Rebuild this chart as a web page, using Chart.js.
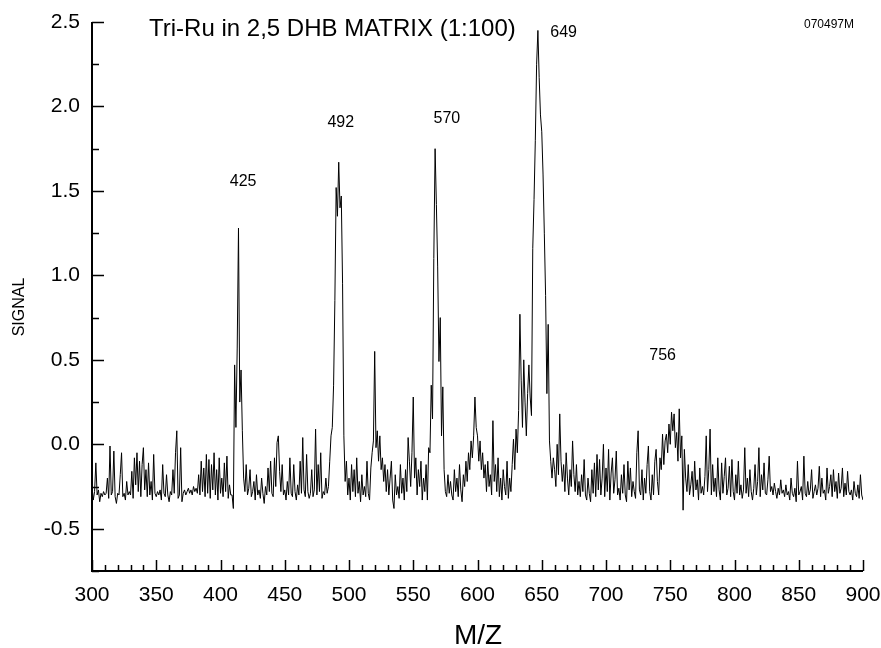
<!DOCTYPE html>
<html>
<head>
<meta charset="utf-8">
<script src="https://cdn.jsdelivr.net/npm/chart.js@4"></script>
<style>
  html, body { margin: 0; padding: 0; background: #fff; }
  canvas { display: block; }
</style>
</head>
<body>
<canvas id="spectrum" width="881" height="648"></canvas>
<script>
// Datos del espectro (m/z 300..900, paso 1)
const mzStart = 300;
const mzStep = 1;
const signal = [
  // 300
  -0.25,-0.33,-0.28,-0.11,-0.30,-0.27,-0.34,-0.29,-0.31,-0.28,
  // 310
  -0.30,-0.29,-0.20,-0.32,-0.01,-0.30,-0.28,-0.04,-0.31,-0.35,
  // 320
  -0.29,-0.30,-0.18,-0.05,-0.31,-0.29,-0.33,-0.22,-0.30,-0.28,
  // 330
  -0.30,-0.16,-0.32,-0.08,-0.24,-0.05,-0.28,-0.10,-0.31,-0.12,
  // 340
  -0.02,-0.27,-0.15,-0.31,-0.11,-0.30,-0.22,-0.33,-0.06,-0.29,
  // 350
  -0.31,-0.28,-0.30,-0.27,-0.33,-0.12,-0.29,-0.31,-0.18,-0.30,
  // 360
  -0.34,-0.28,-0.30,-0.15,-0.29,-0.05,0.08,-0.32,-0.30,-0.02,
  // 370
  -0.34,-0.29,-0.27,-0.30,-0.28,-0.26,-0.29,-0.27,-0.30,-0.25,
  // 380
  -0.28,-0.26,-0.29,-0.18,-0.30,-0.10,-0.28,-0.14,-0.31,-0.06,
  // 390
  -0.29,-0.09,-0.32,-0.12,-0.27,-0.05,-0.30,-0.15,-0.33,-0.08,
  // 400
  -0.29,-0.20,-0.31,-0.11,-0.28,-0.07,-0.32,-0.24,-0.30,-0.30,
  // 410
  -0.38,0.47,0.10,0.57,1.28,0.25,0.44,0.08,-0.20,-0.28,
  // 420
  -0.12,-0.30,-0.26,-0.15,-0.31,-0.28,-0.22,-0.33,-0.18,-0.30,
  // 430
  -0.27,-0.32,-0.20,-0.29,-0.35,-0.25,-0.30,-0.14,-0.28,-0.10,
  // 440
  -0.29,-0.31,-0.08,-0.25,0.01,0.05,-0.16,-0.28,-0.12,-0.30,
  // 450
  -0.27,-0.33,-0.22,-0.30,-0.08,-0.29,-0.31,-0.12,-0.28,-0.33,
  // 460
  -0.24,-0.30,-0.10,-0.29,0.04,-0.27,-0.31,-0.06,-0.28,-0.32,
  // 470
  -0.29,-0.15,-0.31,-0.27,0.09,-0.30,-0.12,-0.28,-0.05,-0.32,
  // 480
  -0.28,-0.30,-0.20,-0.29,-0.25,-0.10,0.05,0.10,0.35,0.85,
  // 490
  1.52,1.35,1.67,1.40,1.47,0.95,0.05,-0.22,-0.10,-0.30,
  // 500
  -0.20,-0.33,-0.12,-0.28,-0.15,-0.31,-0.08,-0.29,-0.22,-0.34,
  // 510
  -0.18,-0.30,-0.25,-0.31,-0.10,-0.29,-0.33,-0.14,-0.05,0.02,
  // 520
  0.55,-0.02,0.08,-0.10,0.05,-0.15,-0.08,-0.22,-0.12,-0.28,
  // 530
  -0.15,-0.30,-0.20,-0.10,-0.33,-0.38,-0.18,-0.30,-0.25,-0.32,
  // 540
  -0.12,-0.29,-0.20,-0.33,-0.15,-0.28,0.04,-0.10,-0.25,-0.05,
  // 550
  0.28,-0.20,-0.08,-0.30,-0.15,-0.25,-0.10,-0.33,-0.20,-0.28,
  // 560
  -0.12,-0.33,-0.02,-0.05,0.35,0.15,1.10,1.75,1.42,1.05,
  // 570
  0.49,0.75,0.05,0.34,-0.15,-0.28,-0.31,-0.18,-0.29,-0.22,
  // 580
  -0.30,-0.33,-0.15,-0.28,-0.20,-0.31,-0.12,-0.27,-0.34,-0.18,
  // 590
  -0.25,-0.10,-0.22,-0.05,-0.15,0.02,-0.08,0.05,0.28,0.10,
  // 600
  0.05,-0.10,0.02,-0.15,-0.05,-0.20,-0.12,-0.28,-0.10,-0.25,
  // 610
  -0.18,-0.30,0.14,-0.22,-0.12,-0.28,-0.08,-0.31,-0.20,-0.33,
  // 620
  -0.15,-0.25,-0.30,-0.10,-0.32,-0.20,-0.28,-0.12,0.03,-0.15,
  // 630
  0.09,-0.05,0.20,0.77,0.38,0.10,0.50,0.25,0.05,0.30,
  // 640
  0.47,0.28,0.17,1.16,1.45,1.80,2.25,2.45,2.17,1.95,
  // 650
  1.85,1.60,1.25,0.88,0.30,0.71,0.02,-0.10,-0.20,-0.08,
  // 660
  -0.15,-0.25,0.00,-0.18,0.18,-0.10,-0.22,-0.12,-0.28,-0.05,
  // 670
  -0.20,-0.30,-0.15,-0.25,0.02,-0.18,-0.28,-0.12,-0.30,-0.22,
  // 680
  -0.31,-0.18,-0.28,-0.09,-0.30,-0.33,-0.20,-0.29,-0.34,-0.15,
  // 690
  -0.29,-0.11,-0.31,-0.06,-0.27,-0.09,-0.30,-0.20,0.00,-0.31,
  // 700
  -0.14,-0.28,-0.03,-0.33,-0.17,-0.08,-0.29,-0.21,-0.04,-0.30,
  // 710
  -0.26,-0.33,-0.18,-0.29,-0.12,-0.30,-0.34,-0.10,-0.27,-0.14,
  // 720
  -0.31,-0.22,-0.28,-0.32,-0.05,0.08,-0.27,-0.30,-0.15,-0.33,
  // 730
  -0.20,-0.29,-0.12,-0.01,-0.28,-0.33,-0.18,-0.30,-0.10,-0.03,
  // 740
  -0.22,-0.30,-0.08,-0.15,0.06,-0.12,0.02,0.06,-0.05,0.12,
  // 750
  0.00,0.19,0.08,0.18,-0.02,0.07,-0.10,0.21,-0.08,0.05,
  // 760
  -0.39,-0.03,-0.20,-0.28,-0.12,-0.30,-0.24,-0.16,-0.31,-0.10,
  // 770
  -0.27,-0.21,-0.33,-0.14,-0.29,-0.25,-0.30,-0.19,0.05,-0.28,
  // 780
  -0.15,0.09,-0.30,-0.12,-0.28,-0.20,-0.31,-0.08,-0.27,-0.33,
  // 790
  -0.11,-0.29,-0.19,-0.08,-0.30,-0.26,-0.13,-0.31,-0.09,-0.28,
  // 800
  -0.33,-0.18,-0.29,-0.10,-0.30,-0.24,-0.32,-0.27,-0.02,-0.29,
  // 810
  -0.20,-0.31,-0.15,-0.28,-0.33,-0.26,-0.12,-0.30,-0.22,-0.02,
  // 820
  -0.31,-0.18,-0.27,-0.11,-0.29,-0.30,-0.21,-0.07,-0.28,-0.25,
  // 830
  -0.30,-0.23,-0.28,-0.32,-0.26,-0.30,-0.21,-0.29,-0.27,-0.31,
  // 840
  -0.24,-0.30,-0.28,-0.33,-0.20,-0.29,-0.31,-0.26,-0.34,-0.10,
  // 850
  -0.30,-0.28,-0.25,-0.33,-0.07,-0.29,-0.31,-0.22,-0.30,-0.27,
  // 860
  -0.15,-0.32,-0.28,-0.24,-0.30,-0.26,-0.13,-0.31,-0.20,-0.29,
  // 870
  -0.27,-0.33,-0.14,-0.29,-0.25,-0.18,-0.31,-0.15,-0.28,-0.22,
  // 880
  -0.32,-0.17,-0.29,-0.26,-0.14,-0.31,-0.23,-0.30,-0.16,-0.28,
  // 890
  -0.30,-0.27,-0.33,-0.22,-0.29,-0.31,-0.24,-0.32,-0.18,-0.30,
  // 900
  -0.33
];

// Etiquetas de picos (texto, m/z del centro, señal de la línea base del texto)
const peakLabels = ['425', '492', '570', '649', '756'];
const peakLabelMz = [417.6, 493.6, 576.2, 667.0, 744.1];
const peakLabelY = [1.53, 1.88, 1.90, 2.41, 0.50];

// Ejes
const xMin = 300, xMax = 900, xMajor = 50, xMinor = 10;
const yMin = -0.75, yMax = 2.5, yMajor = 0.5, yMinor = 0.25;

const FONT = '"Liberation Sans", Arial, Helvetica, sans-serif';

// Ejes dibujados a mano: marcas hacia dentro
const axesPlugin = {
    id: 'axesPlugin',
    afterDraw(chart) {
        const ctx = chart.ctx;
        const xs = chart.scales.x;
        const ys = chart.scales.y;
        const left = xs.getPixelForValue(xMin);
        const right = xs.getPixelForValue(xMax);
        const bottom = ys.getPixelForValue(yMin);
        const top = ys.getPixelForValue(yMax);

        ctx.save();
        ctx.strokeStyle = '#000';
        ctx.lineWidth = 2;
        ctx.beginPath();
        ctx.moveTo(left, top);
        ctx.lineTo(left, bottom);
        ctx.lineTo(right, bottom);
        ctx.stroke();

        ctx.lineWidth = 1.5;
        ctx.beginPath();
        for (let v = xMin; v <= xMax + 0.001; v += xMinor) {
            const px = Math.round(xs.getPixelForValue(v)) + 0.5;
            const major = Math.abs(v / xMajor - Math.round(v / xMajor)) < 1e-6;
            ctx.moveTo(px, bottom);
            ctx.lineTo(px, bottom - (major ? 11 : 6));
        }
        for (let v = yMin; v <= yMax + 0.001; v += yMinor) {
            const py = Math.round(ys.getPixelForValue(v)) + 0.5;
            const major = Math.abs(v / yMajor - Math.round(v / yMajor)) < 1e-6;
            ctx.moveTo(left, py);
            ctx.lineTo(left + (major ? 12 : 7), py);
        }
        ctx.stroke();

        // Textos
        ctx.fillStyle = '#000';
        ctx.textBaseline = 'alphabetic';
        ctx.textAlign = 'left';
        ctx.font = '24px ' + FONT;
        ctx.fillText('Tri-Ru in 2,5 DHB MATRIX (1:100)', 149, 36);

        ctx.font = '12px ' + FONT;
        ctx.fillText('070497M', 804, 28);

        ctx.textAlign = 'center';
        ctx.font = '16px ' + FONT;
        peakLabels.forEach((t, i) => {
            ctx.fillText(t, xs.getPixelForValue(peakLabelMz[i]), ys.getPixelForValue(peakLabelY[i]));
        });

        ctx.font = '28px ' + FONT;
        ctx.fillText('M/Z', 478, 644);

        ctx.translate(24, 307);
        ctx.rotate(-Math.PI / 2);
        ctx.font = '16px ' + FONT;
        ctx.fillText('SIGNAL', 0, 0);
        ctx.restore();
    }
};

const points = signal.map((v, i) => ({ x: mzStart + i * mzStep, y: v }));

new Chart(document.getElementById('spectrum').getContext('2d'), {
    type: 'line',
    data: {
        datasets: [{
            data: points,
            borderColor: '#000',
            borderWidth: 1,
            pointRadius: 0,
            tension: 0,
            fill: false
        }]
    },
    options: {
        responsive: false,
        animation: false,
        devicePixelRatio: 1,
        layout: { padding: { top: 22, right: 18, left: 0, bottom: 0 } },
        plugins: { legend: { display: false }, tooltip: { enabled: false } },
        scales: {
            x: {
                type: 'linear',
                min: xMin,
                max: xMax,
                grid: { display: false, drawTicks: false },
                border: { display: false },
                ticks: {
                    stepSize: xMajor,
                    padding: 12,
                    color: '#000',
                    font: { family: FONT, size: 21 },
                    maxRotation: 0,
                    callback: v => String(v)
                },
                afterFit: s => {
                    s.height = 77;
                    s.paddingLeft = 0;
                    s.paddingRight = 0;
                }
            },
            y: {
                type: 'linear',
                min: yMin,
                max: yMax,
                grid: { display: false, drawTicks: false },
                border: { display: false },
                ticks: {
                    stepSize: yMajor,
                    padding: 12,
                    color: '#000',
                    font: { family: FONT, size: 21 },
                    callback: v => (Math.abs(v - yMin) < 1e-6 ? '' : v.toFixed(1))
                },
                afterFit: s => {
                    s.width = 92;
                    s.paddingTop = 0;
                    s.paddingBottom = 0;
                }
            }
        }
    },
    plugins: [axesPlugin]
});
</script>
</body>
</html>
